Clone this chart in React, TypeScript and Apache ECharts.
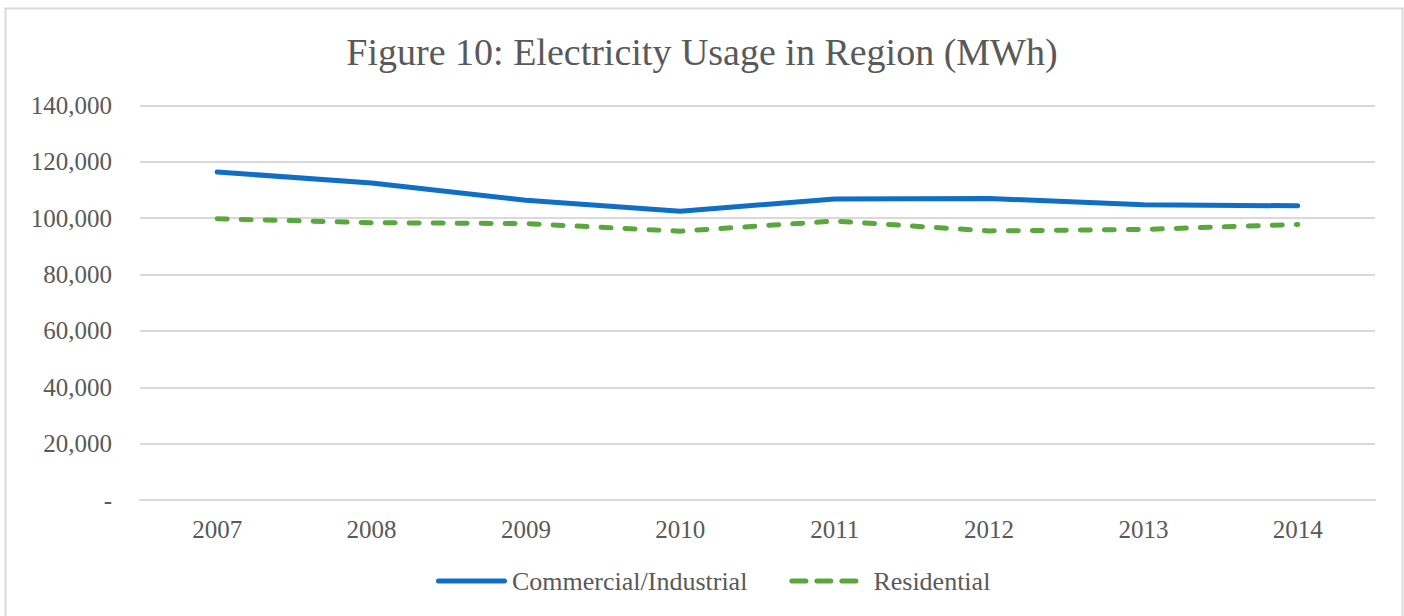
import React, { useEffect, useRef } from "react";
import * as echarts from "echarts";

const years = ["2007", "2008", "2009", "2010", "2011", "2012", "2013", "2014"];
const commercial = [116400, 112500, 106400, 102500, 106800, 107000, 104800, 104400];
const residential = [99800, 98400, 98100, 95400, 99000, 95500, 96000, 97800];
const seriesNames = ["Commercial/Industrial", "Residential"];
const titleText = "Figure 10: Electricity Usage in Region (MWh)";

const FONT = "'Liberation Serif', serif";
const TEXT = "#595959";
const BLUE = "#0f6fc6";
const GREEN = "#5aa83c";

const solidIcon =
  "path://M2.5,0 L68.5,0 A2.5,2.5 0 0 1 68.5,5 L2.5,5 A2.5,2.5 0 0 1 2.5,0 Z";
const dashIcon =
  "path://M2.5,0 L16.5,0 A2.5,2.5 0 0 1 16.5,5 L2.5,5 A2.5,2.5 0 0 1 2.5,0 Z " +
  "M27.5,0 L41.5,0 A2.5,2.5 0 0 1 41.5,5 L27.5,5 A2.5,2.5 0 0 1 27.5,0 Z " +
  "M52.5,0 L66.5,0 A2.5,2.5 0 0 1 66.5,5 L52.5,5 A2.5,2.5 0 0 1 52.5,0 Z";

export default function App() {
  const ref = useRef<HTMLDivElement>(null);
  useEffect(() => {
    if (!ref.current) return;
    const chart = echarts.init(ref.current, null, { renderer: "svg" });
    chart.setOption({
      animation: false,
      backgroundColor: "#ffffff",
      title: {
        text: titleText,
        left: "center",
        top: 28,
        textStyle: { fontFamily: FONT, fontSize: 38, fontWeight: "normal", color: TEXT },
      },
      graphic: [
        {
          type: "rect",
          shape: { x: 5.5, y: 8.5, width: 1397, height: 640 },
          style: { fill: "none", stroke: "#d9d9d9", lineWidth: 2 },
          silent: true,
        },
      ],
      legend: {
        bottom: 17,
        left: 431,
        itemWidth: 71,
        itemHeight: 5,
        itemGap: 42,
        textStyle: { fontFamily: FONT, fontSize: 26, color: TEXT },
        data: [
          { name: seriesNames[0], icon: solidIcon, itemStyle: { color: BLUE } },
          {
            name: seriesNames[1],
            icon: dashIcon,
            itemStyle: { color: GREEN },
            textStyle: { padding: [0, 0, 0, 9] },
          },
        ],
      },
      grid: { left: 140, right: 29, top: 105.5, bottom: 116 },
      xAxis: {
        type: "category",
        data: years,
        boundaryGap: true,
        axisLine: { show: true, lineStyle: { color: "#d9d9d9", width: 2 } },
        axisTick: { show: false },
        axisLabel: { fontFamily: FONT, fontSize: 25, color: TEXT, margin: 17 },
      },
      yAxis: {
        type: "value",
        min: 0,
        max: 140000,
        interval: 20000,
        axisLine: { show: false },
        axisTick: { show: false },
        splitLine: { lineStyle: { color: "#d9d9d9", width: 2 } },
        axisLabel: {
          fontFamily: FONT,
          fontSize: 25,
          color: TEXT,
          margin: 28,
          formatter: (v: number) => (v === 0 ? "-" : v.toLocaleString("en-US")),
        },
      },
      series: [
        {
          name: seriesNames[0],
          type: "line",
          data: commercial,
          symbol: "none",
          lineStyle: { color: BLUE, width: 5, cap: "round", join: "round" },
          itemStyle: { color: BLUE },
        },
        {
          name: seriesNames[1],
          type: "line",
          data: residential,
          symbol: "none",
          lineStyle: { color: GREEN, width: 5, type: [10, 14], cap: "round", join: "round" },
          itemStyle: { color: GREEN },
        },
      ],
    });
    return () => chart.dispose();
  }, []);
  return (
    <div
      ref={ref}
      style={{ position: "absolute", left: 0, top: 0, width: 1404, height: 616 }}
    />
  );
}
